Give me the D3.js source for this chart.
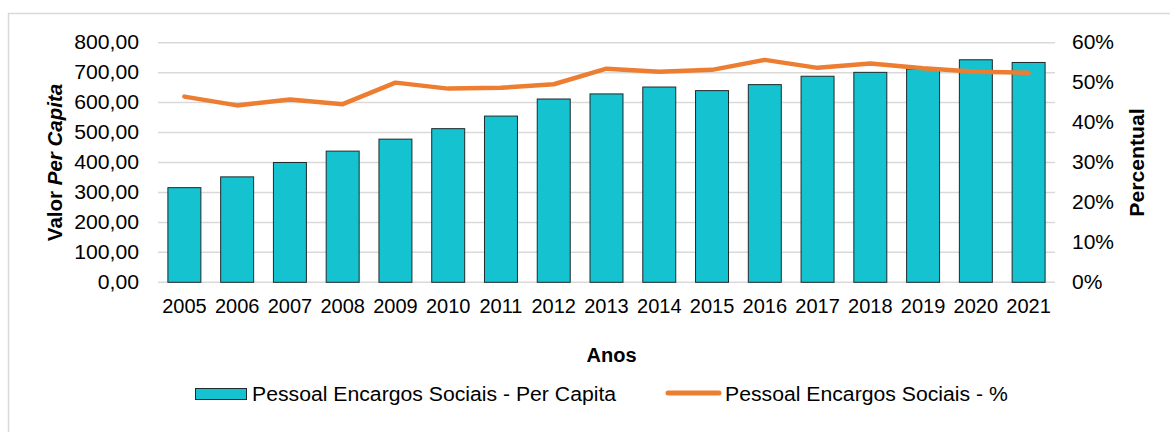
<!DOCTYPE html>
<html>
<head>
<meta charset="utf-8">
<script src="https://cdn.jsdelivr.net/npm/d3@7"></script>
<style>
  html, body { margin: 0; padding: 0; background: #fff; }
  svg { display: block; font-family: "Liberation Sans", Arial, sans-serif; }
</style>
</head>
<body>
<svg id="chart" width="1170" height="432"></svg>
<script>
const years = ["2005","2006","2007","2008","2009","2010","2011","2012","2013","2014","2015","2016","2017","2018","2019","2020","2021"];
const perCapita = [316, 352, 400, 438, 478, 513, 555, 612, 629, 652, 640, 660, 688, 701, 712, 743, 734];
const percent = [46.5, 44.3, 45.8, 44.6, 50.0, 48.5, 48.7, 49.6, 53.5, 52.7, 53.2, 55.7, 53.7, 54.8, 53.6, 52.7, 52.5];
const leftTicks = [0, 100, 200, 300, 400, 500, 600, 700, 800];
const rightTicks = [0, 10, 20, 30, 40, 50, 60];
const seriesNames = ["Pessoal Encargos Sociais - Per Capita", "Pessoal Encargos Sociais - %"];

(function () {
const svg = d3.select("#chart");
const pLeft = 158, pRight = 1055, pTop = 42.7, pBottom = 282.3;
const barColor = "#15C2D0", lineColor = "#ED7D31";

function stretch(sel, k) {
  sel.each(function () {
    const len = this.getComputedTextLength();
    d3.select(this).attr("textLength", len * k).attr("lengthAdjust", "spacingAndGlyphs");
  });
}

svg.append("rect").attr("x", 8.5).attr("y", 13.5).attr("width", 1170).attr("height", 430)
  .attr("fill", "#fff").attr("stroke", "#d9d9d9").attr("stroke-width", 1.5);

const x = d3.scaleBand().domain(years).range([pLeft, pRight]).paddingInner(0.375).paddingOuter(0.1875);
const y = d3.scaleLinear().domain([0, 800]).range([pBottom, pTop]);
const y2 = d3.scaleLinear().domain([0, 60]).range([pBottom, pTop]);

const loc = d3.formatLocale({decimal: ",", thousands: ".", grouping: [3], currency: ["R$", ""]});
const fmt = loc.format(".2f");

// gridlines
svg.append("g").selectAll("line").data(leftTicks).join("line")
  .attr("x1", pLeft).attr("x2", pRight)
  .attr("y1", d => y(d)).attr("y2", d => y(d))
  .attr("stroke", "#d9d9d9").attr("stroke-width", 1.5);

// left axis
const gl = svg.append("g").attr("transform", `translate(${139},0)`)
  .call(d3.axisLeft(y).tickValues(leftTicks).tickFormat(fmt).tickSize(0).tickPadding(0));
gl.select(".domain").remove();
gl.selectAll("text").attr("font-size", 20).attr("fill", "#000").attr("font-family", "Liberation Sans, Arial, sans-serif").attr("dy", "0.3em");
stretch(gl.selectAll("text"), 1.06);

// right axis
const gr = svg.append("g").attr("transform", `translate(${1072},0)`)
  .call(d3.axisRight(y2).tickValues(rightTicks).tickFormat(d => d + "%").tickSize(0).tickPadding(0));
gr.select(".domain").remove();
gr.selectAll("text").attr("font-size", 20).attr("fill", "#000").attr("font-family", "Liberation Sans, Arial, sans-serif").attr("dy", "0.3em");
stretch(gr.selectAll("text"), 1.05);

// bottom axis
const gb = svg.append("g").attr("transform", `translate(0,${pBottom})`)
  .call(d3.axisBottom(x).tickSize(0).tickPadding(0));
gb.select(".domain").remove();
gb.selectAll("text").attr("font-size", 20).attr("fill", "#000").attr("font-family", "Liberation Sans, Arial, sans-serif")
  .attr("dy", 0).attr("y", 31);

// bars
svg.append("g").selectAll("rect").data(perCapita).join("rect")
  .attr("x", (d, i) => x(years[i]))
  .attr("y", d => y(d))
  .attr("width", x.bandwidth())
  .attr("height", d => y(0) - y(d))
  .attr("fill", barColor).attr("stroke", "#1f2a2c").attr("stroke-width", 1);

// line
const line = d3.line().x((d, i) => x(years[i]) + x.bandwidth() / 2).y(d => y2(d));
svg.append("path").datum(percent).attr("d", line)
  .attr("fill", "none").attr("stroke", lineColor).attr("stroke-width", 4.5)
  .attr("stroke-linejoin", "round").attr("stroke-linecap", "round");

// axis titles
const lt = svg.append("text").attr("transform", `translate(62,${(pTop + pBottom) / 2}) rotate(-90)`)
  .attr("text-anchor", "middle").attr("font-size", 20.5).attr("font-weight", "bold");
lt.append("tspan").text("Valor ");
lt.append("tspan").attr("font-style", "italic").text("Per Capita");

const rt = svg.append("text").attr("transform", `translate(1144,${(pTop + pBottom) / 2}) rotate(-90)`)
  .attr("text-anchor", "middle").attr("font-size", 20).attr("font-weight", "bold").text("Percentual");
stretch(rt, 1.06);

svg.append("text").attr("x", (pLeft + pRight) / 2 + 5).attr("y", 361.5)
  .attr("text-anchor", "middle").attr("font-size", 20).attr("font-weight", "bold").text("Anos");

// legend
svg.append("rect").attr("x", 195.5).attr("y", 388.5).attr("width", 51).attr("height", 11)
  .attr("fill", barColor).attr("stroke", "#1f2a2c").attr("stroke-width", 1);
const l1 = svg.append("text").attr("x", 252).attr("y", 401).attr("font-size", 20).text(seriesNames[0]);
svg.append("line").attr("x1", 668).attr("x2", 719).attr("y1", 393).attr("y2", 393)
  .attr("stroke", lineColor).attr("stroke-width", 5).attr("stroke-linecap", "round");
const l2 = svg.append("text").attr("x", 725).attr("y", 401).attr("font-size", 20).text(seriesNames[1]);
stretch(l1, 1.06);
stretch(l2, 1.06);
})();
</script>
</body>
</html>
